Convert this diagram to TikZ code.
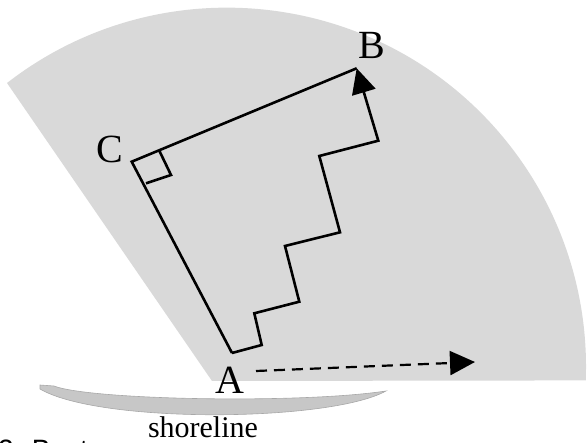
\documentclass[tikz,border=0pt]{standalone}
\usepackage{fontspec}
\setmainfont{Liberation Serif}
\newfontfamily\capsans{Liberation Sans}
\usetikzlibrary{arrows.meta, positioning}
\definecolor{searchgray}{gray}{0.85}
\definecolor{shorefill}{gray}{0.78}
\definecolor{shoreline}{gray}{0.66}

\begin{document}
\begin{tikzpicture}[x=1pt, y=-1pt]
	\tikzset{>={Triangle[length=25pt, width=24pt]}, corner/.style={font=\fontsize{40}{40}\selectfont, inner sep=0pt}, leg/.style={line width=2.6pt, line join=miter} }
	\useasboundingbox (0,0) rectangle (587,443);

	% search area
	\fill[searchgray] (212,381) -- (7,83) arc[start angle=-127.8, end angle=2.2, radius=359] -- cycle;

	% shore
	\filldraw[fill=shorefill, draw=shoreline, line width=0.6pt] (40,385) -- (54,386) .. controls (90,400) and (300,404) .. (386,391) .. controls (330,422) and (100,424) .. (40,389) -- cycle;
	\node[font=\fontsize{30}{30}\selectfont, inner sep=0pt] (shore) at (203,427) {shoreline};
	\node[font=\capsans\fontsize{28}{28}\selectfont, inner sep=0pt, anchor=north west] (caption) at (-2,440) {2. Best};

	\node[corner] (A) at (230,380) {A};
	\node[corner] (B) at (372,45) {B};
	\node[corner] (C) at (110,149) {C};

	\coordinate (a0) at (232,353);
	\coordinate (b0) at (356.7,68.3);
	\coordinate (c0) at (131.7,161.7);

	% triangle
	\draw[leg] (a0) -- (c0) -- (b0);
	\draw[leg] (159.3,150.7) -- (171,175) -- (146,183.3);

	% search path
	\coordinate (s1) at (261.7,345);
	\coordinate (s2) at (254.3,313.3);
	\coordinate (s3) at (299.3,301.7);
	\coordinate (s4) at (285,246);
	\coordinate (s5) at (340,232.3);
	\coordinate (s6) at (319.3,156);
	\coordinate (s7) at (378.3,140.7);
	\draw[leg, ->] (a0) -- (s1) -- (s2) -- (s3) -- (s4) -- (s5) -- (s6) -- (s7) -- (b0);

	% heading
	\coordinate (t0) at (256,371);
	\coordinate (h0) at (475,362);
	\draw[line width=2.2pt, dash pattern=on 11pt off 7pt, ->] (t0) -- (h0);
\end{tikzpicture}
\end{document}
